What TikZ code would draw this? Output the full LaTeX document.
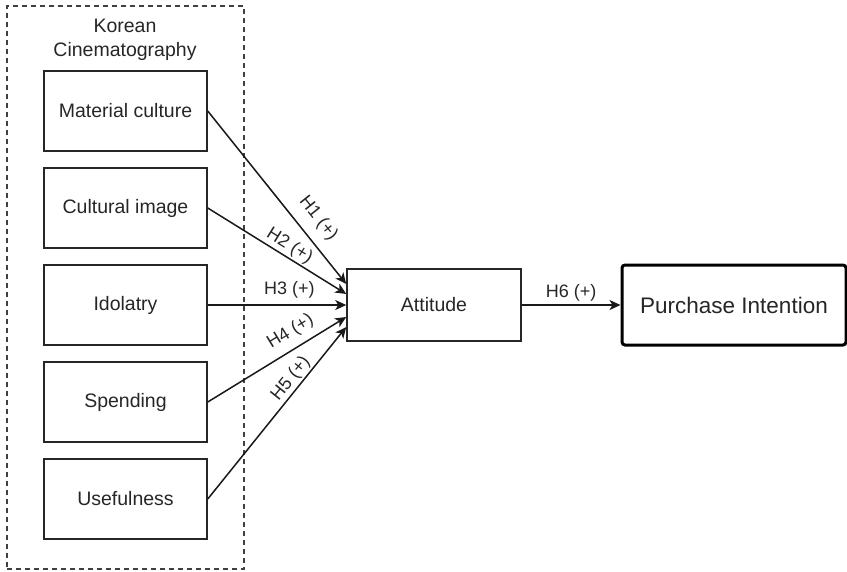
\documentclass[tikz,border=0pt]{standalone}
\usepackage{fontspec}
\setmainfont{Liberation Sans}
\usetikzlibrary{arrows.meta}
\begin{document}
\begin{tikzpicture}[x=1pt,y=-1pt,
  boxtext/.style={font=\fontsize{19.5}{23.4}\selectfont, text=black!85},
  factor/.style={draw=black!85, line width=1.5pt, minimum width=163pt, minimum height=80pt, inner sep=0pt, boxtext},
  arr/.style={draw=black!90, line width=1.5pt, -{Stealth[length=11pt,width=10pt,inset=3pt]}},
  hlab/.style={sloped, inner sep=0pt, font=\fontsize{18}{21}\selectfont, text=black!85}
]
\useasboundingbox (0,0) rectangle (847,571);
% group container
\node[draw=black!75, line width=1.3pt, dash pattern=on 5pt off 4pt, minimum width=237pt, minimum height=563pt, inner sep=0pt] (grp) at (125.5,287.5) {};
\node[boxtext, align=center, anchor=north, inner sep=0pt] (grplabel) at (125,19) {Korean\\Cinematography};
% factor boxes
\node[factor] (mc) at (125.5,111) {Material culture};
\node[factor] (ci) at (125.5,208) {Cultural image};
\node[factor] (id) at (125.5,305) {Idolatry};
\node[factor] (sp) at (125.5,402) {Spending};
\node[factor] (us) at (125.5,499) {Usefulness};
% attitude and purchase intention
\node[draw=black!85, line width=1.5pt, minimum width=174pt, minimum height=72pt, inner sep=0pt, boxtext] (att) at (434,305) {Attitude};
\node[draw=black, line width=3pt, rounded corners=3pt, minimum width=224pt, minimum height=80pt, inner sep=0pt, font=\fontsize{22.5}{27}\selectfont, text=black!85] (pi) at (734,305) {Purchase Intention};
% connectors
\draw[arr] (mc.east) -- node[hlab, pos=0.69, above=10pt] (l1) {H1 (+)} ([yshift=21pt]att.west);
\draw[arr] (ci.east) -- node[hlab, pos=0.55, above=1.5pt] (l2) {H2 (+)} ([yshift=11pt]att.west);
\draw[arr] (id.east) -- node[hlab, pos=0.59, above=6.5pt] (l3) {H3 (+)} (att.west);
\draw[arr] (sp.east) -- node[hlab, pos=0.66, above=7.4pt] (l4) {H4 (+)} ([yshift=-12pt]att.west);
\draw[arr] (us.east) -- node[hlab, pos=0.66, above=1.5pt] (l5) {H5 (+)} ([yshift=-22pt]att.west);
\draw[arr] (att.east) -- node[hlab, pos=0.5, above=3pt] (l6) {H6 (+)} (pi.west);
\end{tikzpicture}
\end{document}
